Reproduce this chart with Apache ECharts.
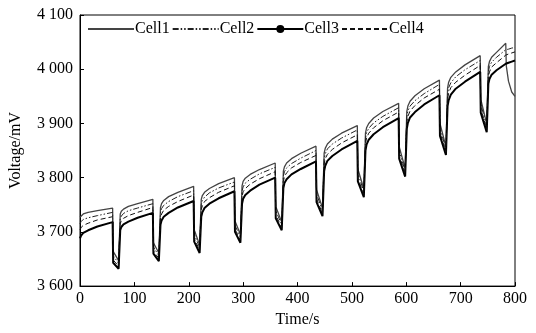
<!DOCTYPE html>
<html>
<head>
<meta charset="utf-8">
<script src="https://cdn.jsdelivr.net/npm/echarts@6/dist/echarts.min.js"></script>
<style>html,body{margin:0;padding:0;background:#fff;}#c{width:536px;height:333px;}</style>
</head>
<body>
<div id="c"></div>
<script>
// Time points (s)
const time = [
  0,2,6,15,32,60,61,71,
  74,76,80,89,106,134,135,145,
  148,150,154,163,180,209,210,220,
  223,225,229,238,255,284,285,295,
  298,300,304,313,330,359,360,371,
  374,376,380,389,406,434,435,446,
  449,451,455,464,481,510,511,522,
  525,527,531,540,557,586,587,598,
  601,603,607,616,633,661,662,673,
  676,678,682,691,708,736,737,748,
  751,753,757,766,783,784,788,794,800
];
// Voltages (mV)
const cell1 = [
  3727,3730,3733,3736,3739,3744,3664,3647,
  3733,3738,3742,3747,3752,3760,3680,3661,
  3745,3752,3758,3765,3773,3784,3704,3676,
  3760,3767,3773,3780,3789,3800,3720,3695,
  3785,3793,3799,3806,3815,3827,3747,3718,
  3812,3820,3827,3835,3845,3858,3778,3744,
  3845,3854,3862,3871,3882,3896,3816,3779,
  3882,3892,3900,3910,3922,3937,3857,3817,
  3922,3932,3941,3951,3964,3980,3900,3857,
  3965,3976,3985,3995,4008,4025,3945,3899,
  4005,4014,4022,4031,4048,4006,3978,3958,3950
];
const cell2 = [
  3715,3719,3723,3726,3730,3736,3656,3642,
  3724,3729,3734,3739,3744,3752,3672,3656,
  3735,3743,3749,3756,3765,3776,3696,3671,
  3750,3758,3764,3772,3781,3792,3712,3690,
  3775,3783,3790,3797,3807,3819,3739,3713,
  3803,3811,3818,3826,3836,3850,3770,3739,
  3835,3844,3853,3862,3873,3888,3808,3774,
  3872,3883,3891,3901,3913,3929,3849,3812,
  3912,3923,3932,3942,3955,3972,3892,3852,
  3955,3966,3975,3986,3999,4016,3936,3894,
  3995,4005,4013,4022,4036,4036,4037,4039,4040
];
const cell3 = [
  3688,3693,3698,3703,3710,3718,3643,3632,
  3703,3709,3714,3719,3726,3735,3660,3646,
  3713,3721,3728,3735,3745,3757,3682,3661,
  3728,3736,3744,3752,3762,3775,3700,3680,
  3752,3761,3768,3776,3787,3800,3725,3703,
  3781,3790,3797,3806,3816,3830,3755,3729,
  3812,3822,3831,3840,3852,3868,3793,3764,
  3850,3861,3870,3880,3893,3910,3835,3802,
  3890,3901,3911,3921,3935,3952,3877,3842,
  3932,3943,3953,3964,3977,3995,3920,3884,
  3973,3982,3990,3998,4010,4011,4012,4014,4016
];
const cell4 = [
  3704,3708,3712,3716,3722,3728,3648,3637,
  3715,3721,3725,3730,3736,3745,3665,3651,
  3726,3733,3740,3747,3756,3768,3688,3666,
  3741,3748,3756,3763,3773,3785,3705,3685,
  3765,3774,3780,3788,3798,3811,3731,3708,
  3793,3802,3809,3818,3828,3841,3761,3734,
  3825,3835,3843,3852,3864,3879,3799,3769,
  3863,3873,3882,3892,3905,3921,3841,3807,
  3903,3913,3923,3933,3947,3963,3883,3847,
  3945,3956,3966,3976,3989,4007,3927,3889,
  3986,3995,4004,4012,4026,4027,4028,4030,4032
];
const seriesNames = ['Cell1','Cell2','Cell3','Cell4'];
const xTicks = [0,100,200,300,400,500,600,700,800];
const yTicks = [3600,3700,3800,3900,4000,4100];

const pair = arr => time.map((t,i)=>[t,arr[i]]);
const font = '"Liberation Serif","DejaVu Serif",serif';
const fmtY = v => String(v).replace(/(\d)(\d{3})$/,'$1 $2');

const chart = echarts.init(document.getElementById('c'), null, {renderer:'canvas'});
chart.setOption({
  animation:false,
  backgroundColor:'#fff',
  grid:{left:80,right:21,top:15,bottom:43,show:true,borderColor:'#000',borderWidth:1},
  legend:{
    left:82, top:16, itemWidth:46, itemHeight:10, itemGap:2,
    textStyle:{fontFamily:font,fontSize:16,color:'#000',padding:[0,0,0,-4]},
    data:[
      {name:seriesNames[0],itemStyle:{opacity:0}},
      {name:seriesNames[1],itemStyle:{opacity:0}},
      {name:seriesNames[2]},
      {name:seriesNames[3],itemStyle:{opacity:0}}
    ]
  },
  xAxis:{
    type:'value', min:xTicks[0], max:xTicks[xTicks.length-1], interval:100,
    name:'Time/s', nameLocation:'middle', nameGap:23,
    nameTextStyle:{fontFamily:font,fontSize:16,color:'#000'},
    axisLine:{show:true,lineStyle:{color:'#000',width:1}},
    axisTick:{inside:true,length:4,lineStyle:{color:'#000'}},
    axisLabel:{fontFamily:font,fontSize:16,color:'#000',margin:5},
    splitLine:{show:false}
  },
  yAxis:{
    type:'value', min:yTicks[0], max:yTicks[yTicks.length-1], interval:100,
    name:'Voltage/mV', nameLocation:'middle', nameGap:56,
    nameTextStyle:{fontFamily:font,fontSize:16,color:'#000'},
    axisLine:{show:true,lineStyle:{color:'#000',width:1}},
    axisTick:{inside:true,length:4,lineStyle:{color:'#000'}},
    axisLabel:{fontFamily:font,fontSize:16,color:'#000',margin:7,formatter:fmtY},
    splitLine:{show:false}
  },
  series:[
    {name:'Cell1',type:'line',data:pair(cell1),symbol:'none',
     lineStyle:{color:'#444',width:1.3,type:'solid'},itemStyle:{color:'#444'}},
    {name:'Cell2',type:'line',data:pair(cell2),symbol:'none',
     lineStyle:{color:'#222',width:1,type:[6,2,1.5,2,1.5,2]},itemStyle:{color:'#222'}},
    {name:'Cell3',type:'line',data:pair(cell3),symbol:'circle',symbolSize:3,showSymbol:false,
     lineStyle:{color:'#000',width:2,type:'solid'},itemStyle:{color:'#000'}},
    {name:'Cell4',type:'line',data:pair(cell4),symbol:'none',
     lineStyle:{color:'#111',width:1,type:[5,3]},itemStyle:{color:'#111'}}
  ]
});
</script>
</body>
</html>
